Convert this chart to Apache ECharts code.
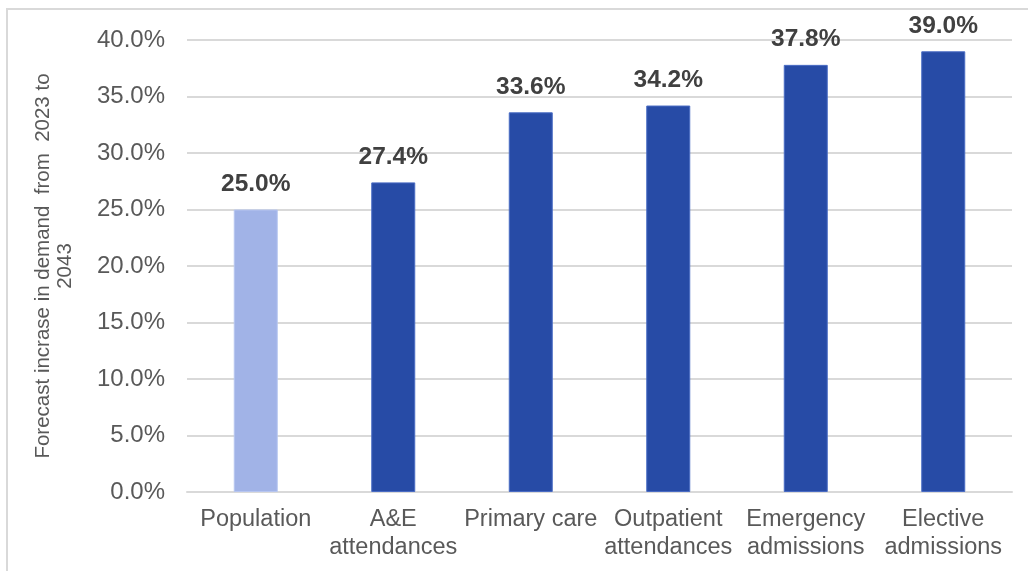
<!DOCTYPE html>
<html>
<head>
<meta charset="utf-8">
<script src="https://cdn.jsdelivr.net/npm/echarts@6/dist/echarts.min.js"></script>
<style>
  html, body { margin: 0; padding: 0; background: #ffffff; }
  #chart { width: 1028px; height: 571px; }
</style>
</head>
<body>
<div id="chart"></div>
<script>
// Forecast growth in demand, 2023 to 2043
const categories = [
  'Population',
  'A&E\nattendances',
  'Primary care',
  'Outpatient\nattendances',
  'Emergency\nadmissions',
  'Elective\nadmissions'
];
const growthPct = [25.0, 27.4, 33.6, 34.2, 37.8, 39.0];
const yTicks = { min: 0, max: 40, interval: 5 };
const axisTitle = 'Forecast incrase in demand  from  2023 to\n2043';

const LIGHT = '#A1B3E7';
const DARK = '#274BA6';
const FONT = 'Liberation Sans, Arial, sans-serif';

const chart = echarts.init(document.getElementById('chart'), null, { renderer: 'canvas' });

chart.setOption({
  backgroundColor: '#ffffff',
  animation: false,
  graphic: [{
    type: 'rect',
    shape: { x: 7, y: 9, width: 1100, height: 700 },
    style: { fill: 'none', stroke: '#d9d9d9', lineWidth: 2 },
    silent: true,
    z: -10
  }],
  grid: { left: 187, right: 16, top: 40, bottom: 79 },
  xAxis: {
    type: 'category',
    data: categories,
    axisLine: { show: true, lineStyle: { color: '#d9d9d9', width: 2 } },
    axisTick: { show: false },
    axisLabel: {
      color: '#595959',
      fontFamily: FONT,
      fontSize: 23.5,
      lineHeight: 28,
      margin: 14,
      interval: 0
    }
  },
  yAxis: {
    type: 'value',
    min: yTicks.min,
    max: yTicks.max,
    interval: yTicks.interval,
    name: axisTitle,
    nameLocation: 'middle',
    nameRotate: 90,
    nameGap: 111,
    nameTextStyle: {
      color: '#595959',
      fontFamily: FONT,
      fontSize: 20.5,
      lineHeight: 22
    },
    axisLine: { show: false },
    axisTick: { show: false },
    splitLine: { lineStyle: { color: '#d9d9d9', width: 2 } },
    axisLabel: {
      color: '#595959',
      fontFamily: FONT,
      fontSize: 24,
      margin: 22,
      formatter: v => v.toFixed(1) + '%'
    }
  },
  series: [{
    type: 'bar',
    barWidth: 44,
    data: growthPct.map((v, i) => ({
      value: v,
      itemStyle: {
        color: i === 0 ? LIGHT : DARK,
        borderColor: i === 0 ? '#b7c6f0' : '#4a6cc4',
        borderWidth: 1
      }
    })),
    label: {
      show: true,
      position: 'top',
      distance: 13,
      color: '#404040',
      fontFamily: FONT,
      fontWeight: 'bold',
      fontSize: 24.5,
      formatter: p => p.value.toFixed(1) + '%'
    }
  }]
});
</script>
</body>
</html>
